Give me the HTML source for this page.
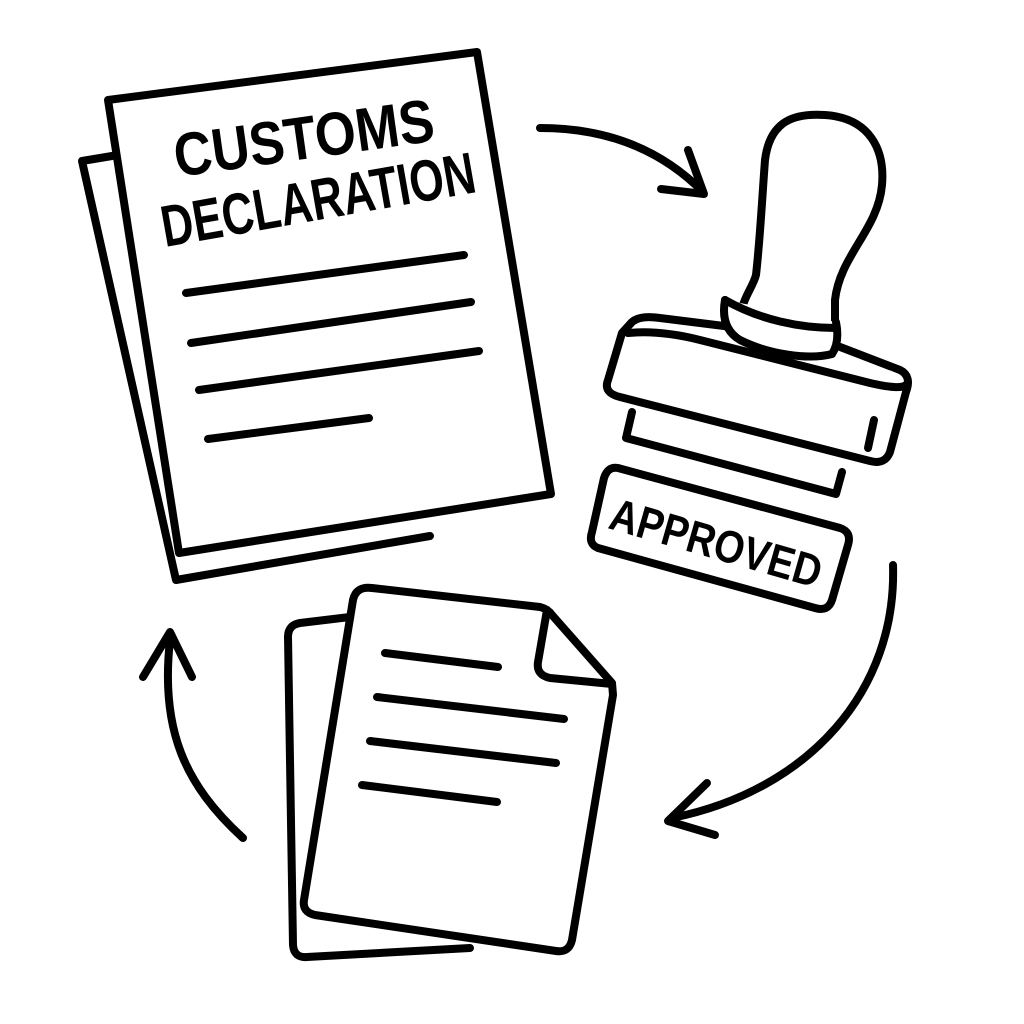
<!DOCTYPE html>
<html><head><meta charset="utf-8"><style>html,body{margin:0;padding:0;background:#fff}svg{display:block}</style></head>
<body>
<svg width="1024" height="1024" viewBox="0 0 1024 1024" xmlns="http://www.w3.org/2000/svg">
<rect width="1024" height="1024" fill="#fff"/>
<g fill="none" stroke="#000" stroke-width="8" stroke-linecap="round" stroke-linejoin="round">
  <path d="M112,156 L82,161 L176,580 L430,536"/>
  <path d="M108,100 L477,52 L551,494 L179,553 Z" fill="#fff"/>
  <line x1="186" y1="293" x2="464" y2="255"/>
  <line x1="191" y1="343" x2="471" y2="302"/>
  <line x1="199" y1="390" x2="479" y2="351"/>
  <line x1="208" y1="439" x2="369" y2="418"/>
  <path d="M540,128 Q640,128 703,192"/>
  <path d="M688,150 L704,194 L661,189"/>
  <path d="M740,325 C740,300 752,290 756,275 C760,240 762,200 765,160 C770,120 795,113 825,115 C870,118 885,150 882,185 C878,230 840,255 835,300 L835,335" fill="#fff"/>
  <path d="M632,322 Q640,315 660,318 L740,328 L835,345 L900,370 Q912,376 906,392 L890,452 Q885,465 870,461 L620,397 Q603,393 608,380 L622,333 Z" fill="#fff"/>
  <path d="M628,333 Q660,330 700,340 L870,383 Q900,390 906,385"/>
  <path d="M725,300 Q720,328 740,340 C770,355 810,360 832,354 Q840,342 836,322" fill="#fff"/>
  <path d="M725,300 C760,320 800,328 836,328"/>
  <line x1="874" y1="420" x2="868" y2="448"/>
  <path d="M632,412 L626,438 L836,494 L842,472"/>
  <path d="M618,468 L840,528 Q852,532 848,545 L832,600 Q828,612 815,608 L598,548 Q588,544 592,532 L604,478 Q608,466 618,468 Z"/>
  <path d="M893,565 C897,690 810,790 672,818"/>
  <path d="M707,783 L668,821 L715,835"/>
  <path d="M350,617 L300,623 Q288,625 288,637 L293,945 Q294,958 307,957 L470,948"/>
  <path d="M372,588 L540,607 Q548,609 552,615 L612,683 L613,695 L572,940 Q569,953 556,951 L315,915 Q302,912 304,900 L353,600 Q356,586 372,588 Z" fill="#fff"/>
  <path d="M547,610 L538,662 Q536,675 550,678 L612,684"/>
  <line x1="385" y1="653" x2="498" y2="667"/>
  <line x1="377" y1="697" x2="564" y2="719"/>
  <line x1="370" y1="741" x2="556" y2="763"/>
  <line x1="362" y1="785" x2="497" y2="802"/>
  <path d="M170,640 C160,730 185,785 243,838"/>
  <path d="M143,677 L170,632 L192,677"/>
</g>
<g font-family="Liberation Sans, sans-serif" font-weight="bold" fill="#000">
  <text x="0" y="0" font-size="50" textLength="262" lengthAdjust="spacingAndGlyphs" transform="translate(177,177) rotate(-8) scale(1,1.22)">CUSTOMS</text>
  <text x="0" y="0" font-size="48" textLength="318" lengthAdjust="spacingAndGlyphs" transform="translate(165,247) rotate(-10) scale(1,1.22)">DECLARATION</text>
  <text x="0" y="0" font-size="38" textLength="218" lengthAdjust="spacingAndGlyphs" transform="translate(607,528) rotate(16) scale(1,1.2)">APPROVED</text>
</g>
</svg>
</body></html>
